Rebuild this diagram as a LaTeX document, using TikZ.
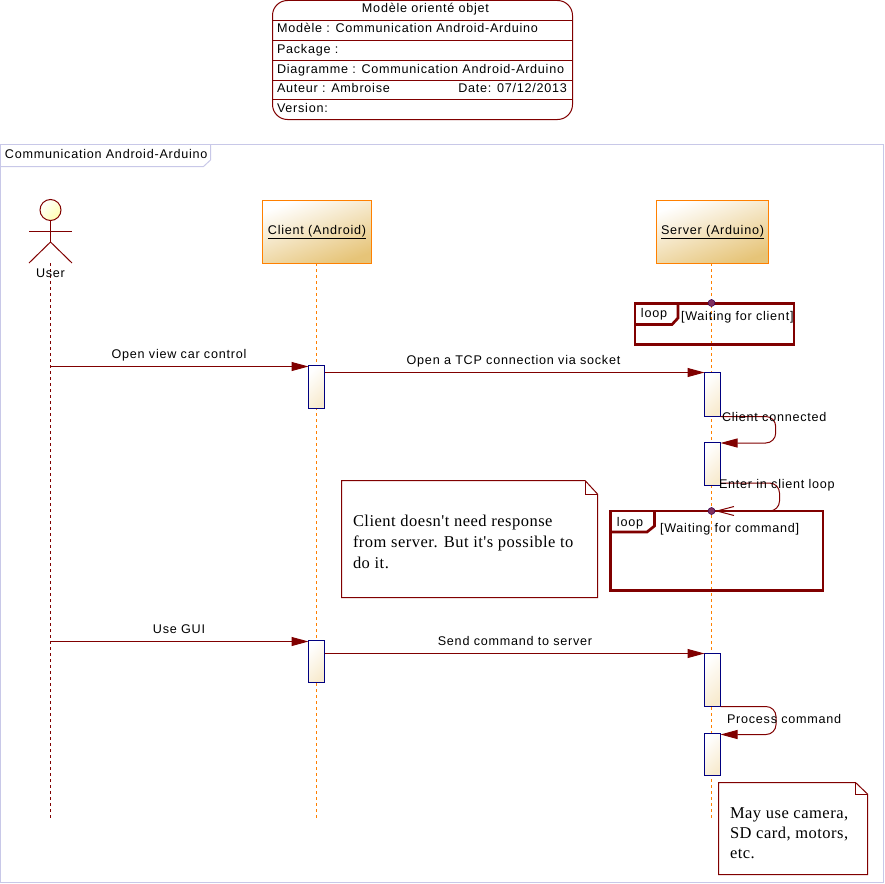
\documentclass[tikz,border=0pt]{standalone}
\usepackage{fontspec}
\setmainfont{Liberation Sans}[LetterSpace=6]
\newfontfamily\notefont{Liberation Serif}[LetterSpace=3]
\usetikzlibrary{arrows.meta}
\usetikzlibrary{calc}
\definecolor{darkred}{HTML}{800000}
\definecolor{framecol}{HTML}{C8C8E8}
\definecolor{orangecol}{HTML}{FF8000}
\definecolor{tancol}{HTML}{E6C478}
\definecolor{creamcol}{HTML}{F8EBCF}
\definecolor{navycol}{HTML}{000080}
\definecolor{dotcol}{HTML}{803060}
\tikzset{
every node/.style={ % Same text size everywhere
font=\fontsize{12.6}{14}\selectfont,
inner sep=0pt,
outer sep=0pt},
label/.style={ % Plain text, fixed height so that lines stay level
text height=10pt,
text depth=2pt},
object/.style={ % Boxes at the top of a lifeline
draw=orangecol,
line width=1pt,
minimum width=109pt,
minimum height=63pt,
shading=axis,
top color=white,
bottom color=tancol,
shading angle=20},
activation/.style={ % Thin bars on a lifeline
draw=navycol,
line width=1pt,
minimum width=16pt,
shading=axis,
top color=white,
bottom color=creamcol,
shading angle=45},
lifeline/.style={dash pattern=on 3pt off 3pt, line width=1pt},
msg/.style={ % Filled head
draw=darkred,
line width=1pt,
-{Triangle[length=17pt,width=9pt]}},
loopbox/.style={draw=darkred, line width=2.7pt},
notebox/.style={draw=darkred, line width=1pt},
loopdot/.style={circle, draw=navycol!60!darkred, fill=dotcol, minimum size=7pt, line width=.5pt},
stick/.style={draw=darkred, line width=1pt}}

\begin{document}
\begin{tikzpicture}[x=1pt,y=-1pt]
\useasboundingbox (0,0) rectangle (885,883);
% title block
\node[draw=darkred, line width=1pt, rounded corners=15pt, minimum width=300pt, minimum height=119pt, anchor=north west] (title) at (272.5,0.5) {};
\foreach \y in {20.5,40.5,60.5,80.5,99.5}
  \draw[darkred, line width=1pt] (title.west |- 0,\y) -- (title.east |- 0,\y);
\node[label] (t0) at (425.5,9) {Modèle orienté objet};
\node[label, anchor=west] (t1) at (277,29) {Modèle : Communication Android-Arduino};
\node[label, anchor=west] (t2) at (277,49) {Package :};
\node[label, anchor=west] (t3) at (277,69) {Diagramme : Communication Android-Arduino};
\node[label, anchor=west] (t4) at (277,88.5) {Auteur : Ambroise};
\node[label, anchor=east] (t5) at (567,88.5) {Date: 07/12/2013};
\node[label, anchor=west] (t6) at (277,108.5) {Version:};
% outer frame
\draw[framecol, line width=1pt] (0.5,144.5) rectangle (883.5,882.5);
\draw[framecol, line width=1pt] (0.5,166.5) -- (203.5,166.5) -- (210.5,160) -- (210.5,144.5);
\node[label, anchor=west] (frametitle) at (5,154.5) {Communication Android-Arduino};
% lifelines
\coordinate (uend) at (50.5,818);
\coordinate (cend) at (316.5,818);
\coordinate (send) at (711.5,818);
\node[object] (client) at (317,232) {\underline{Client (Android)}};
\node[object, minimum width=112pt] (server) at (712.5,232) {\underline{Server (Arduino)}};
\coordinate (utop) at (50.5,263);
\draw[darkred, lifeline] (utop) -- (uend);
\draw[orangecol, lifeline] (utop -| cend) -- (cend);
\draw[orangecol, lifeline] (utop -| send) -- (send);
% actor
\node[circle, stick, minimum size=21pt, shading=axis, top color=white, bottom color=yellow!30, shading angle=45] (head) at (50.5,210) {};
\coordinate (hip) at (50.5,242);
\draw[stick] (head.south) -- (hip);
\draw[stick] (29,231.5) -- (72,231.5);
\draw[stick] (29,263) -- (hip) -- (72,263);
\node[label] (user) at (50.5,273) {User};
% activations
\node[activation, minimum height=43pt] (c1) at (316.5,387) {};
\node[activation, minimum height=42pt] (c2) at (316.5,661.5) {};
\node[activation, minimum height=44pt] (s1) at (712.5,394.5) {};
\node[activation, minimum height=43pt] (s2) at (712.5,464) {};
\node[activation, minimum height=53pt] (s3) at (712.5,680) {};
\node[activation, minimum height=42pt] (s4) at (712.5,754.5) {};
% loop frames
\draw[loopbox] (635,303.5) rectangle (794,344.7);
\draw[loopbox] (678,303.5) -- (678,318) -- (672,324.5) -- (635,324.5);
\draw[loopbox] (610.5,511) rectangle (823,590.5);
\draw[loopbox] (654.5,511) -- (654.5,526) -- (647,532) -- (610.5,532);
\node[loopdot] (dot1) at (711.5,303) {};
\node[loopdot] (dot2) at (711.5,511) {};
\node[label] (loop1) at (654,313) {loop};
\node[label] (loop2) at (630,522) {loop};
\node[label, anchor=west] (guard1) at (681,316) {[Waiting for client]};
\node[label, anchor=west] (guard2) at (660,528) {[Waiting for command]};
% messages
\coordinate (u1) at (50.5,366.5);
\coordinate (u2) at (50.5,641.5);
\draw[msg] (u1) -- (u1 -| c1.west);
\draw[msg] (u2) -- (u2 -| c2.west);
\draw[msg] (c1.east |- s1.north) -- (s1.north west);
\draw[msg] (c2.east |- s3.north) -- (s3.north west);
\node[label] (m1) at (179,354) {Open view car control};
\node[label] (m2) at (513.5,360) {Open a TCP connection via socket};
\node[label] (m3) at (179,629) {Use GUI};
\node[label] (m4) at (515,641) {Send command to server};
% self messages
\coordinate (r1) at (775.7,443);
\coordinate (r2) at (779.5,483);
\coordinate (r3) at (776,734.5);
\draw[msg, rounded corners=10pt] (s1.south east) -| (r1) -- (r1 -| s2.east);
\draw[draw=darkred, line width=1pt, rounded corners=10pt, -{Straight Barb[length=17pt,width=9pt]}] (r2 -| s2.east) -| (r2 |- dot2) -- (dot2);
\draw[msg, rounded corners=10pt] (s3.south east) -| (r3) -- (r3 -| s4.east);
\node[label, anchor=west] (m5) at (722,417) {Client connected};
\node[label, anchor=west] (m6) at (719,484) {Enter in client loop};
\node[label, anchor=west] (m7) at (727,719) {Process command};
% notes
\draw[notebox] (341.5,480.5) -- (585,480.5) -- (597.5,494) -- (597.5,597.5) -- (341.5,597.5) -- cycle;
\draw[notebox] (585,480.5) -- (585,494) -- (597.5,494);
\draw[notebox] (718.5,782.5) -- (855.5,782.5) -- (867.5,794) -- (867.5,874.5) -- (718.5,874.5) -- cycle;
\draw[notebox] (855.5,782.5) -- (855.5,794) -- (867.5,794);
\node[anchor=west, align=left, font=\notefont\fontsize{16.5}{21}\selectfont] (note1) at (353,542) {Client doesn't need response\\from server. But it's possible to\\do it.};
\node[anchor=west, align=left, font=\notefont\fontsize{16.5}{20}\selectfont] (note2) at (730,833) {May use camera,\\SD card, motors,\\etc.};
\end{tikzpicture}
\end{document}
